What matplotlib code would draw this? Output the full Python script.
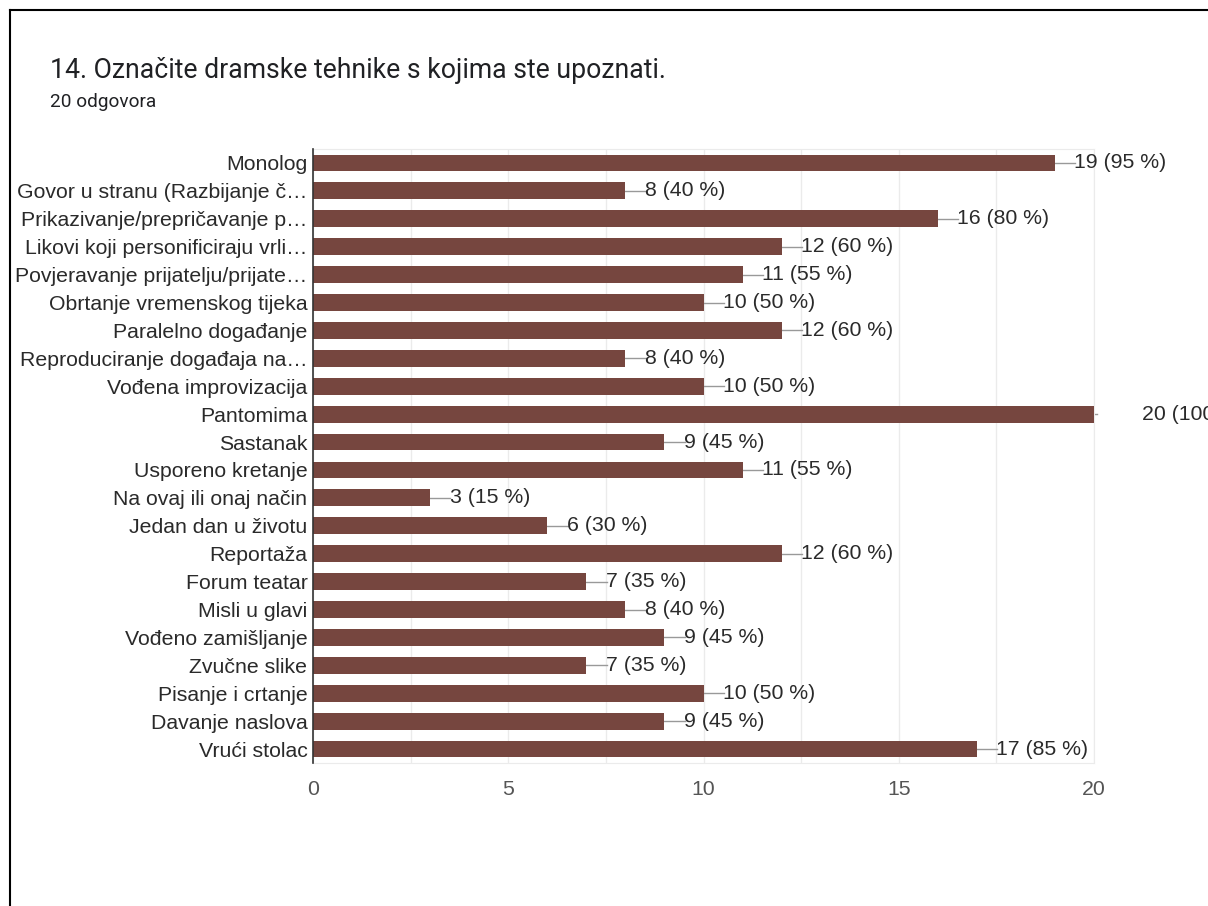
import matplotlib
matplotlib.use("Agg")
import matplotlib.pyplot as plt
from matplotlib.lines import Line2D
import matplotlib.transforms as mtransforms

plt.rcParams['font.family'] = ['Liberation Sans', 'DejaVu Sans']

title = "14. Označite dramske tehnike s kojima ste upoznati."
subtitle = "20 odgovora"
categories = [
    "Monolog",
    "Govor u stranu (Razbijanje č…",
    "Prikazivanje/prepričavanje p…",
    "Likovi koji personificiraju vrli…",
    "Povjeravanje prijatelju/prijate…",
    "Obrtanje vremenskog tijeka",
    "Paralelno događanje",
    "Reproduciranje događaja na…",
    "Vođena improvizacija",
    "Pantomima",
    "Sastanak",
    "Usporeno kretanje",
    "Na ovaj ili onaj način",
    "Jedan dan u životu",
    "Reportaža",
    "Forum teatar",
    "Misli u glavi",
    "Vođeno zamišljanje",
    "Zvučne slike",
    "Pisanje i crtanje",
    "Davanje naslova",
    "Vrući stolac",
]
counts = [19, 8, 16, 12, 11, 10, 12, 8, 10, 20, 9, 11, 3, 6, 12, 7, 8, 9, 7, 10, 9, 17]
total = 20
xticks = [0, 5, 10, 15, 20]

bar_color = "#76463f"
text_color = "#2a2a2a"

fig = plt.figure(figsize=(12.08, 9.06), dpi=100)
fig.patch.set_facecolor("white")

# page border (left and top)
fig.add_artist(Line2D([10/1208, 10/1208], [0, 1 - 10/906], color="black", lw=1.5, transform=fig.transFigure))
fig.add_artist(Line2D([10/1208, 1], [1 - 10/906, 1 - 10/906], color="black", lw=1.5, transform=fig.transFigure))

fig.text(50/1208, 1 - 70/906, title, fontsize=19.2, color="#202124", va="center", ha="left",
         family=["Roboto", "DejaVu Sans"])
fig.text(50/1208, 1 - 102/906, subtitle, fontsize=13.7, color="#202124", va="center", ha="left",
         family=["Roboto", "DejaVu Sans"])

ax = fig.add_axes([313/1208, 1 - 763/906, (1094 - 313)/1208, (763 - 149)/906])
y = list(range(len(categories)))
ax.barh(y, counts, height=0.6, color=bar_color, zorder=3)
ax.set_ylim(len(categories) - 0.5, -0.5)
ax.set_xlim(0, total)
ax.set_yticks(y)
ax.set_yticklabels(categories, fontsize=15.3, color=text_color)
ax.set_xticks(xticks)
ax.set_xticklabels([str(t) for t in xticks], fontsize=15.3, color="#555555")
ax.set_xticks([2.5, 7.5, 12.5, 17.5], minor=True)
ax.tick_params(axis="both", which="both", length=0, pad=4)
ax.tick_params(axis="x", which="major", pad=12)
ax.grid(axis="x", which="both", color="#ebebeb", lw=1, zorder=0)
for s in ["top", "bottom", "right"]:
    ax.spines[s].set_color("#ebebeb")
ax.spines["left"].set_color("#333333")
ax.spines["left"].set_linewidth(1.2)
ax.spines["left"].set_zorder(4)

for yi, c in zip(y, counts):
    label = f"{c} ({round(c / total * 100)} %)"
    if c >= total:
        off = mtransforms.offset_copy(ax.transData, fig=fig, x=48, y=0, units="dots")
        ax.plot([c, c + 0.08], [yi, yi], color="#999999", lw=1, zorder=2, clip_on=False)
        ax.text(c, yi, label, transform=off, fontsize=15.3, color=text_color, va="center", ha="left", clip_on=False)
    else:
        ax.plot([c, c + 0.52], [yi, yi], color="#999999", lw=1, zorder=2, clip_on=False)
        ax.text(c + 0.5, yi, label, fontsize=15.3, color=text_color, va="center", ha="left", clip_on=False)

fig.savefig("out.png", dpi=100, facecolor="white")
